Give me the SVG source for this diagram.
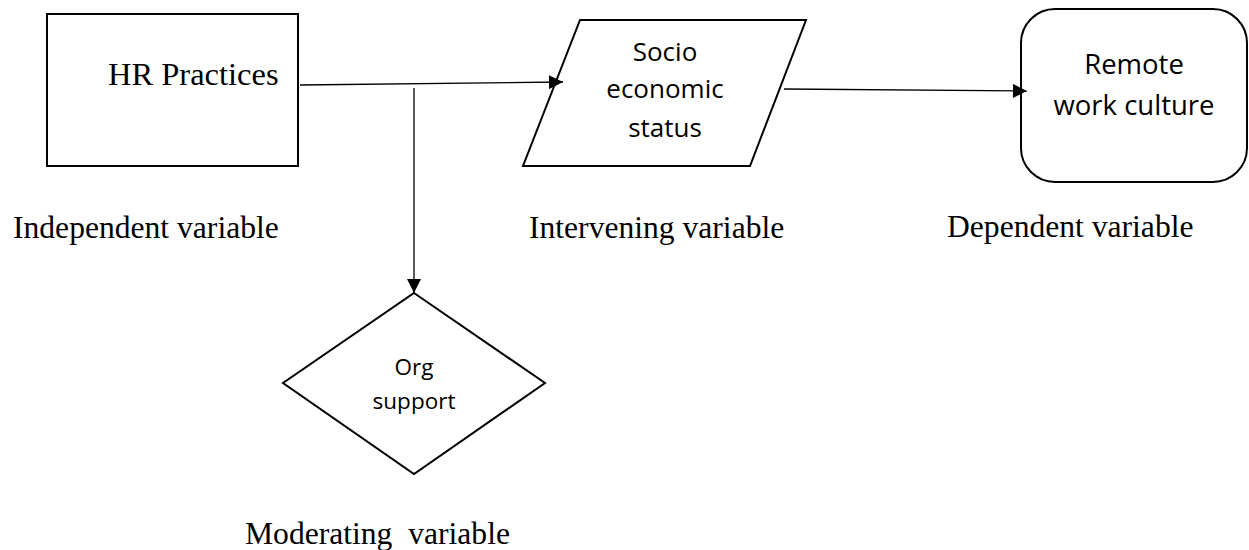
<svg xmlns="http://www.w3.org/2000/svg" width="1249" height="550" viewBox="0 0 1249 550">
<style>
.shape{fill:#fff;stroke:#000;stroke-width:2}
.conn{fill:none;stroke:#000;stroke-width:1.3}
.serif{font-family:"Liberation Serif","Times New Roman",serif;font-size:31.6px;fill:#000}
.sans{font-family:"Open Sans","Noto Sans",sans-serif;fill:#000;text-anchor:middle}
</style>
<defs>
<marker id="arr" viewBox="0 0 10 10" refX="10" refY="5" markerWidth="15" markerHeight="14" markerUnits="userSpaceOnUse" orient="auto">
<path d="M0,0 L10,5 L0,10 Z" fill="#000"/>
</marker>
</defs>
<rect width="1249" height="550" fill="#fff"/>
<g id="hr">
<rect class="shape" x="47" y="14" width="251" height="152"/>
<text class="serif" style="font-size:32.5px" x="108" y="85">HR Practices</text>
</g>
<g id="socio">
<polygon class="shape" points="580,20 806,20 750,166 523,166"/>
<text class="sans" font-size="26" x="665" y="61">Socio</text>
<text class="sans" font-size="26" x="665" y="98">economic</text>
<text class="sans" font-size="26" x="665" y="137">status</text>
</g>
<g id="remote">
<rect class="shape" x="1021" y="9" width="226" height="173" rx="34" ry="34"/>
<text class="sans" font-size="27.5" x="1134" y="74">Remote</text>
<text class="sans" font-size="27.5" x="1134" y="115">work culture</text>
</g>
<g id="org">
<polygon class="shape" points="414,293 545,383 414,474 283,383"/>
<text class="sans" font-size="22.5" x="414" y="375">Org</text>
<text class="sans" font-size="22.5" x="414" y="409">support</text>
</g>
<g id="connectors">
<line class="conn" x1="300" y1="85" x2="563" y2="82" marker-end="url(#arr)"/>
<line class="conn" x1="414" y1="88" x2="414" y2="293" marker-end="url(#arr)"/>
<line class="conn" x1="784" y1="89" x2="1027" y2="91" marker-end="url(#arr)"/>
</g>
<g id="labels">
<text class="serif" x="13" y="238">Independent variable</text>
<text class="serif" x="529" y="238">Intervening variable</text>
<text class="serif" x="947" y="237">Dependent variable</text>
<text class="serif" x="245" y="544" xml:space="preserve">Moderating  variable</text>
</g>
</svg>
